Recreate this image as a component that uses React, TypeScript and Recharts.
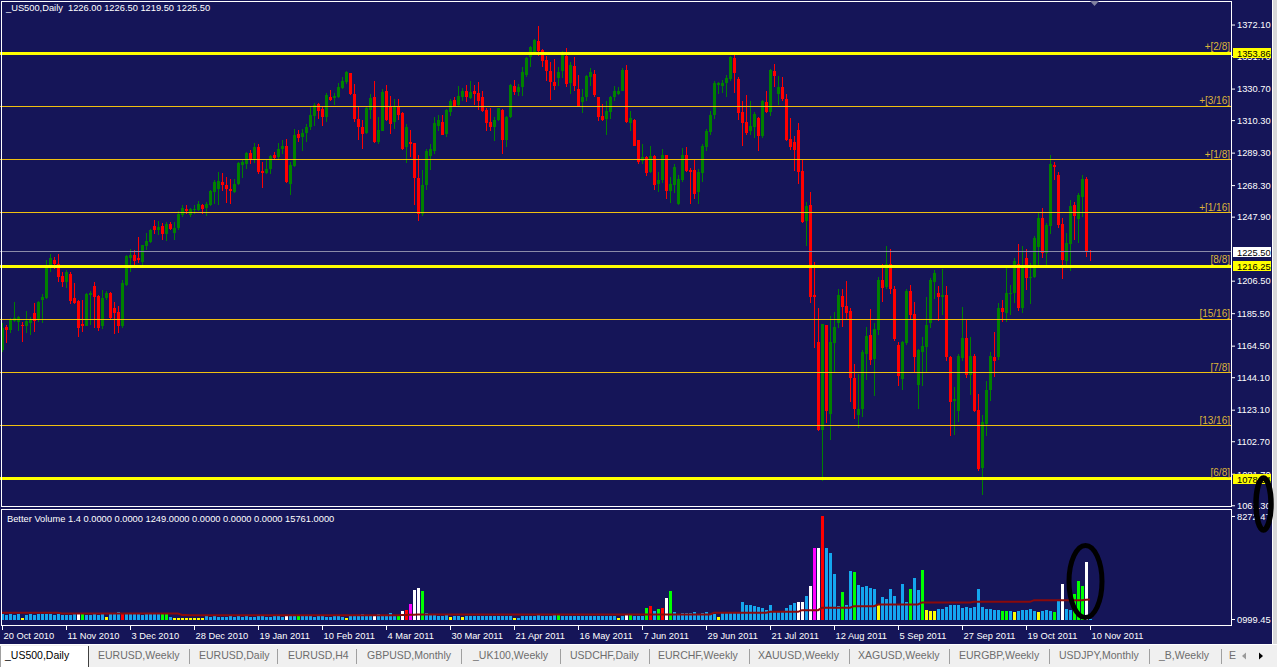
import React from "react";
import { ComposedChart, Bar, Line, XAxis, YAxis, ReferenceLine } from "recharts";

const FONT = "'Liberation Sans', Arial, sans-serif";
const NAVY = "#151558";
const BULL = "#008000";
const BEAR = "#ff0000";
const THICK = "#ffff00";
const THIN = "#f0c010";
const LABEL = "#dcb43a";

const symbol = "_US500";
const period = "Daily";

// one date label every 16 bars, starting at bar 0
const dateLabels = [
  "20 Oct 2010", "11 Nov 2010", "3 Dec 2010", "28 Dec 2010", "19 Jan 2011", "10 Feb 2011",
  "4 Mar 2011", "30 Mar 2011", "21 Apr 2011", "16 May 2011", "7 Jun 2011", "29 Jun 2011",
  "21 Jul 2011", "12 Aug 2011", "5 Sep 2011", "27 Sep 2011", "19 Oct 2011", "10 Nov 2011",
];

const opens = [
  1162.1, 1177.0, 1175.0, 1181.0, 1180.4, 1178.2, 1177.5, 1179.3, 1186.2, 1181.4,
  1194.3, 1195.8, 1216.9, 1220.1, 1217.6, 1209.8, 1206.2, 1211.1, 1195.8, 1193.9,
  1178.9, 1177.6, 1197.6, 1203.4, 1196.9, 1177.2, 1195.4, 1199.1, 1189.0, 1186.8,
  1177.6, 1204.0, 1221.6, 1223.4, 1221.2, 1219.1, 1229.1, 1231.9, 1242.0, 1239.9,
  1242.0, 1237.3, 1243.3, 1237.9, 1241.0, 1249.1, 1253.4, 1249.1, 1252.4, 1252.8,
  1255.6, 1254.1, 1255.6, 1264.2, 1266.0, 1270.6, 1268.4, 1266.3, 1264.2, 1269.1,
  1281.4, 1282.4, 1289.3, 1284.6, 1293.2, 1277.7, 1276.4, 1279.2, 1287.8, 1286.7,
  1291.9, 1294.2, 1269.1, 1280.7, 1301.8, 1299.6, 1302.2, 1306.1, 1313.6, 1321.1,
  1317.9, 1312.9, 1325.8, 1325.0, 1325.4, 1331.4, 1335.1, 1341.3, 1327.5, 1311.4,
  1306.5, 1302.4, 1317.2, 1325.8, 1296.8, 1303.9, 1329.7, 1318.9, 1309.3, 1319.4,
  1315.1, 1293.2, 1296.4, 1295.7, 1273.4, 1249.8, 1268.4, 1287.2, 1290.6, 1307.1,
  1309.3, 1301.8, 1315.7, 1323.7, 1320.7, 1325.4, 1329.3, 1325.0, 1329.3, 1328.0,
  1325.8, 1317.2, 1309.3, 1306.1, 1310.4, 1317.4, 1297.9, 1312.5, 1332.9, 1329.1,
  1331.8, 1340.0, 1351.2, 1354.4, 1361.9, 1356.1, 1349.5, 1342.6, 1335.1, 1337.6,
  1342.2, 1352.2, 1334.4, 1345.8, 1330.8, 1322.2, 1325.4, 1338.3, 1340.4, 1325.4,
  1313.6, 1311.4, 1315.7, 1325.8, 1327.5, 1329.7, 1343.0, 1308.8, 1310.8, 1297.5,
  1284.1, 1286.7, 1277.1, 1287.2, 1269.1, 1271.7, 1287.8, 1264.8, 1268.4, 1256.2,
  1271.7, 1288.4, 1278.6, 1278.6, 1264.2, 1276.4, 1293.2, 1302.8, 1314.2, 1333.2,
  1332.9, 1334.4, 1337.2, 1350.7, 1337.2, 1315.7, 1309.3, 1303.5, 1306.5, 1312.1,
  1300.1, 1322.2, 1315.7, 1342.6, 1327.5, 1332.3, 1324.3, 1298.5, 1296.4, 1304.3,
  1277.7, 1245.5, 1255.6, 1197.6, 1167.5, 1110.1, 1178.2, 1120.9, 1166.8, 1179.3,
  1197.0, 1190.5, 1187.5, 1143.8, 1120.2, 1123.9, 1159.5, 1171.8, 1156.1, 1175.0,
  1207.2, 1202.5, 1217.5, 1201.2, 1165.3, 1143.2, 1166.4, 1200.3, 1185.3, 1139.5,
  1161.0, 1163.8, 1179.3, 1206.1, 1199.1, 1196.5, 1197.6, 1157.4, 1128.8, 1122.4,
  1156.7, 1169.6, 1146.0, 1158.2, 1123.4, 1085.8, 1114.4, 1135.9, 1157.8, 1157.4,
  1189.0, 1186.2, 1198.3, 1198.6, 1217.9, 1189.0, 1221.2, 1208.3, 1208.9, 1228.3,
  1247.6, 1224.8, 1242.0, 1281.4, 1274.9, 1243.3, 1219.7, 1230.5, 1255.6, 1247.0,
  1260.9, 1272.7, 1226.0,
];

const highs = [
  1179.7, 1178.0, 1182.5, 1193.3, 1184.0, 1180.4, 1187.5, 1183.6, 1192.2, 1194.0,
  1198.2, 1220.1, 1224.0, 1222.3, 1224.0, 1212.6, 1214.0, 1212.6, 1205.1, 1194.3,
  1194.3, 1199.1, 1200.4, 1206.2, 1197.6, 1200.8, 1200.4, 1199.7, 1193.3, 1190.5,
  1207.2, 1223.4, 1227.6, 1226.6, 1235.2, 1230.2, 1237.7, 1240.5, 1246.3, 1245.5,
  1243.8, 1244.8, 1244.8, 1244.8, 1251.9, 1255.6, 1255.6, 1254.1, 1255.6, 1258.4,
  1256.6, 1257.7, 1265.2, 1271.7, 1277.1, 1276.4, 1273.8, 1272.7, 1272.7, 1283.5,
  1285.0, 1289.9, 1291.4, 1295.7, 1295.3, 1283.5, 1284.6, 1287.8, 1289.9, 1295.7,
  1297.5, 1298.5, 1283.5, 1305.0, 1304.3, 1305.0, 1307.8, 1319.4, 1321.5, 1321.5,
  1318.9, 1328.0, 1330.1, 1328.0, 1334.6, 1338.7, 1342.6, 1341.3, 1334.0, 1319.4,
  1310.8, 1318.9, 1327.5, 1335.7, 1312.9, 1330.8, 1333.6, 1326.5, 1324.3, 1324.1,
  1315.7, 1307.8, 1304.3, 1295.7, 1287.8, 1278.6, 1291.7, 1295.3, 1312.9, 1314.2,
  1314.2, 1317.9, 1324.3, 1325.8, 1332.9, 1331.4, 1333.6, 1335.7, 1333.6, 1335.1,
  1329.3, 1318.5, 1318.5, 1312.9, 1318.5, 1317.9, 1313.6, 1334.0, 1336.6, 1334.0,
  1345.2, 1351.6, 1358.5, 1363.0, 1371.6, 1356.5, 1352.2, 1348.0, 1350.1, 1345.2,
  1355.5, 1357.2, 1348.0, 1351.6, 1340.0, 1330.8, 1340.0, 1344.3, 1343.0, 1325.8,
  1321.1, 1323.2, 1326.5, 1332.9, 1332.3, 1344.3, 1346.5, 1316.8, 1311.4, 1297.9,
  1294.9, 1287.6, 1293.6, 1287.8, 1277.1, 1292.1, 1288.4, 1273.8, 1282.4, 1274.9,
  1292.7, 1293.2, 1279.9, 1285.0, 1279.2, 1294.9, 1305.0, 1316.8, 1335.7, 1335.4,
  1336.6, 1340.0, 1352.2, 1353.3, 1338.7, 1322.8, 1327.1, 1322.8, 1315.7, 1312.9,
  1323.7, 1329.3, 1343.6, 1346.9, 1339.4, 1338.7, 1327.5, 1312.1, 1300.1, 1308.6,
  1284.6, 1257.7, 1264.2, 1219.1, 1189.0, 1178.9, 1178.2, 1184.0, 1186.8, 1201.4,
  1201.4, 1206.6, 1189.0, 1153.1, 1146.6, 1161.7, 1176.7, 1188.3, 1179.7, 1208.9,
  1217.9, 1229.1, 1227.6, 1203.4, 1167.5, 1168.0, 1201.2, 1204.0, 1193.3, 1162.5,
  1170.7, 1196.5, 1208.3, 1213.7, 1203.4, 1214.1, 1203.4, 1158.2, 1138.0, 1159.5,
  1189.6, 1181.4, 1170.3, 1159.5, 1133.7, 1120.2, 1141.7, 1161.0, 1173.9, 1192.6,
  1194.3, 1216.2, 1203.9, 1221.8, 1230.4, 1229.1, 1227.0, 1218.4, 1235.6, 1251.3,
  1254.1, 1244.2, 1288.4, 1283.5, 1277.1, 1247.6, 1237.7, 1259.2, 1257.7, 1263.5,
  1274.9, 1273.8, 1226.5,
];

const lows = [
  1160.4, 1166.8, 1173.3, 1180.4, 1174.0, 1167.5, 1172.8, 1171.8, 1173.9, 1180.4,
  1179.3, 1194.8, 1212.6, 1214.1, 1206.2, 1202.5, 1201.9, 1191.8, 1191.8, 1170.7,
  1173.5, 1177.2, 1178.2, 1176.1, 1174.6, 1175.4, 1194.3, 1181.4, 1172.2, 1172.8,
  1176.1, 1203.4, 1212.6, 1216.9, 1218.0, 1216.9, 1226.6, 1231.3, 1237.3, 1236.2,
  1233.0, 1232.6, 1239.5, 1233.0, 1239.9, 1248.0, 1250.2, 1248.0, 1250.2, 1251.9,
  1250.2, 1248.5, 1254.9, 1256.6, 1255.6, 1264.8, 1257.1, 1256.6, 1263.5, 1268.4,
  1273.4, 1279.2, 1282.4, 1282.9, 1276.0, 1266.9, 1276.0, 1276.0, 1284.6, 1285.6,
  1288.9, 1270.0, 1262.0, 1280.3, 1296.4, 1290.6, 1296.8, 1304.3, 1307.1, 1311.4,
  1307.1, 1309.3, 1323.2, 1320.7, 1324.8, 1330.8, 1334.0, 1327.1, 1309.3, 1297.5,
  1292.1, 1301.8, 1311.4, 1295.7, 1295.3, 1303.5, 1309.9, 1301.8, 1305.0, 1310.8,
  1291.4, 1282.9, 1286.7, 1255.6, 1245.5, 1248.5, 1265.2, 1278.1, 1288.9, 1303.9,
  1300.7, 1299.6, 1313.6, 1319.4, 1320.0, 1323.2, 1322.2, 1324.3, 1320.7, 1317.2,
  1315.7, 1303.9, 1303.9, 1297.0, 1309.9, 1288.9, 1293.2, 1312.1, 1327.1, 1326.5,
  1326.5, 1338.7, 1345.2, 1353.3, 1352.3, 1344.7, 1336.1, 1323.9, 1330.1, 1332.9,
  1337.9, 1331.8, 1327.5, 1329.3, 1319.6, 1315.1, 1323.2, 1332.9, 1325.8, 1309.9,
  1309.9, 1301.3, 1311.4, 1323.2, 1327.1, 1329.3, 1308.6, 1303.5, 1293.6, 1282.4,
  1282.0, 1274.3, 1276.4, 1265.7, 1264.2, 1270.0, 1259.9, 1257.1, 1263.5, 1255.6,
  1270.6, 1277.1, 1256.2, 1259.9, 1256.2, 1270.6, 1290.6, 1301.3, 1311.4, 1327.5,
  1328.0, 1325.4, 1336.1, 1328.0, 1310.4, 1294.2, 1301.3, 1300.7, 1299.2, 1290.6,
  1299.2, 1315.1, 1313.6, 1331.8, 1320.7, 1323.2, 1297.0, 1291.0, 1277.7, 1269.1,
  1244.2, 1229.1, 1192.6, 1163.2, 1109.5, 1077.2, 1114.8, 1103.7, 1147.1, 1176.1,
  1177.1, 1181.4, 1128.2, 1117.4, 1111.6, 1118.7, 1142.3, 1152.4, 1132.5, 1171.8,
  1193.3, 1201.2, 1198.2, 1168.1, 1138.5, 1135.9, 1165.3, 1181.4, 1147.1, 1123.9,
  1138.5, 1148.1, 1176.1, 1194.8, 1181.0, 1184.7, 1154.6, 1106.7, 1107.3, 1115.3,
  1154.6, 1143.8, 1133.1, 1121.7, 1083.7, 1068.0, 1106.7, 1128.8, 1144.5, 1155.7,
  1180.3, 1180.3, 1184.7, 1192.6, 1187.5, 1185.7, 1200.8, 1191.8, 1208.3, 1216.9,
  1221.8, 1216.9, 1236.9, 1271.7, 1241.2, 1207.6, 1216.2, 1213.2, 1233.4, 1231.3,
  1248.0, 1222.3, 1219.5,
];

const closes = [
  1176.1, 1175.0, 1181.9, 1182.5, 1183.6, 1177.2, 1180.5, 1181.9, 1181.0, 1193.3,
  1196.5, 1216.9, 1221.2, 1217.6, 1209.4, 1206.2, 1212.6, 1193.9, 1192.2, 1176.5,
  1177.2, 1198.2, 1198.6, 1196.5, 1176.5, 1195.8, 1199.1, 1182.5, 1185.7, 1177.6,
  1205.1, 1222.7, 1223.4, 1219.7, 1220.1, 1229.8, 1232.6, 1239.9, 1239.9, 1241.6,
  1237.3, 1243.3, 1240.5, 1240.9, 1250.2, 1254.1, 1251.9, 1253.0, 1253.4, 1256.2,
  1253.4, 1256.6, 1264.8, 1270.6, 1271.3, 1268.4, 1266.3, 1264.8, 1269.1, 1282.9,
  1283.5, 1289.3, 1285.0, 1293.2, 1277.1, 1276.4, 1279.2, 1287.2, 1286.3, 1292.1,
  1294.0, 1270.6, 1281.4, 1301.3, 1299.2, 1302.6, 1306.5, 1314.0, 1320.7, 1316.4,
  1312.9, 1327.1, 1323.9, 1326.0, 1332.3, 1335.7, 1341.9, 1327.5, 1311.4, 1306.1,
  1301.8, 1318.5, 1325.0, 1296.4, 1304.3, 1329.1, 1310.4, 1307.8, 1318.9, 1314.2,
  1291.7, 1306.1, 1294.9, 1273.4, 1250.2, 1268.4, 1290.4, 1291.7, 1308.6, 1310.4,
  1301.3, 1317.2, 1323.2, 1320.0, 1326.5, 1329.3, 1325.4, 1328.6, 1327.5, 1323.2,
  1316.4, 1308.6, 1306.5, 1310.8, 1318.5, 1297.9, 1312.9, 1333.6, 1328.6, 1332.3,
  1341.5, 1350.7, 1357.6, 1362.3, 1355.5, 1348.6, 1342.2, 1335.1, 1332.9, 1341.9,
  1353.7, 1334.0, 1346.5, 1332.9, 1320.0, 1325.8, 1339.4, 1341.5, 1327.1, 1312.5,
  1310.8, 1316.4, 1325.8, 1329.3, 1329.7, 1343.0, 1309.3, 1312.1, 1294.2, 1283.5,
  1286.7, 1276.4, 1287.2, 1268.4, 1272.1, 1287.8, 1264.8, 1269.1, 1280.3, 1272.8,
  1287.8, 1277.7, 1277.0, 1263.1, 1277.1, 1294.2, 1303.5, 1314.2, 1334.4, 1334.4,
  1334.4, 1337.9, 1351.2, 1340.9, 1315.1, 1308.6, 1302.2, 1307.1, 1314.6, 1300.1,
  1322.8, 1315.7, 1343.0, 1339.4, 1331.8, 1324.3, 1297.9, 1293.2, 1291.0, 1277.1,
  1244.8, 1254.9, 1196.5, 1196.0, 1110.1, 1178.9, 1122.4, 1167.5, 1176.7, 1197.6,
  1190.0, 1186.2, 1143.8, 1123.9, 1123.9, 1160.4, 1171.1, 1155.7, 1175.4, 1207.2,
  1201.9, 1217.5, 1201.2, 1169.0, 1144.9, 1167.5, 1200.3, 1184.7, 1157.8, 1161.7,
  1164.7, 1178.2, 1207.2, 1211.5, 1196.5, 1197.6, 1157.4, 1128.2, 1130.3, 1158.2,
  1169.6, 1146.0, 1158.2, 1122.4, 1085.2, 1115.3, 1135.9, 1158.2, 1155.2, 1189.0,
  1186.8, 1199.1, 1198.7, 1219.7, 1189.0, 1216.9, 1208.3, 1209.4, 1234.7, 1247.6,
  1224.8, 1242.7, 1282.0, 1280.3, 1242.7, 1220.5, 1230.9, 1254.9, 1248.5, 1262.0,
  1272.7, 1226.3, 1225.5,
];

const volumes = [
  420, 380, 450, 400, 430, 150, 400, 420, 380, 450,
  430, 480, 460, 400, 420, 380, 360, 400, 410, 520,
  560, 400, 380, 420, 390, 410, 170, 420, 440, 620,
  480, 450, 430, 420, 410, 400, 430, 420, 440, 450,
  560, 560, 200, 150, 120, 110, 100, 90, 110, 100,
  130, 250, 220, 260, 240, 230, 210, 250, 240, 260,
  230, 250, 220, 240, 260, 250, 230, 240, 250, 260,
  240, 300, 260, 250, 290, 260, 250, 270, 240, 260,
  250, 240, 230, 260, 250, 240, 150, 260, 280, 300,
  480, 300, 320, 320, 420, 300, 310, 520, 330, 380,
  670, 750, 1233, 2358, 2546, 2278, 560, 380, 340, 320,
  300, 330, 180, 300, 310, 170, 300, 290, 310, 280,
  300, 320, 290, 300, 310, 280, 300, 290, 160, 120,
  280, 300, 290, 310, 330, 320, 300, 310, 470, 360,
  300, 310, 290, 300, 320, 310, 290, 300, 310, 320,
  300, 290, 310, 300, 150, 300, 330, 360, 310, 300,
  320, 884, 1080, 660, 880, 960, 1690, 2280, 620, 480,
  520, 560, 500, 620, 450, 520, 600, 480, 430, 200,
  560, 620, 600, 640, 640, 1370, 1150, 1150, 1050, 1000,
  960, 760, 1200, 720, 620, 680, 900, 1150, 1340, 1420,
  1420, 1900, 2680, 5760, 5760, 8308, 5760, 5300, 3650, 1070,
  2170, 1150, 3886, 3832, 2760, 2630, 2710, 2550, 2440, 1150,
  1820, 1630, 2440, 1900, 1150, 2890, 1420, 2440, 3350, 2360,
  3970, 800, 670, 670, 830, 830, 1020, 1150, 1150, 1150,
  940, 1020, 940, 1020, 2440, 1020, 880, 830, 750, 750,
  670, 670, 670, 616, 670, 750, 750, 830, 670, 616,
  670, 750, 670, 616, 1550, 2840, 830, 750, 2010, 3080,
  2710, 4580, 60,
];

// b normal, y low, w climax, g churn, r climax down, m climax churn
const volumeKinds =
  "bbbbbybbbb" + "bbbbbbbbbw" + "gbbbbbybbb" + "rbbbbbbbbb" + "ggbyyyyyyy" +
  "ybbbbbbbbb" + "bbbbbbbbbb" + "bwbbgbbbbb" + "bbbbbbybbb" + "bbbwbbbbbg" +
  "wrmwwgbbbb" + "bbybbybbbb" + "bbbbbbbbyb" + "bbbbbbbbbg" + "bbbbbbbbbb" +
  "bbbbybwgbb" + "bgrbgrwgbb" + "bbbbbbbbby" + "bbbbbbbbbb" + "bbbbbbbbbw" +
  "wbwmwrbbbb" + "gbbgbbbbby" + "bbbbbbbgbb" + "gyyybbbbbb" + "bbbbbbbbbb" +
  "ggbybbbbby" + "bbbgbwbbgg" + "gwb";

const volumeAverage = [
  536, 536, 536, 536, 536, 536, 536, 536, 536, 536,
  536, 536, 536, 536, 536, 482, 482, 482, 482, 482,
  482, 482, 482, 482, 482, 482, 482, 482, 482, 482,
  482, 482, 482, 482, 482, 482, 482, 482, 482, 482,
  482, 482, 482, 482, 482, 360, 355, 350, 350, 350,
  350, 350, 350, 350, 350, 350, 350, 350, 350, 350,
  350, 350, 350, 350, 350, 350, 350, 350, 350, 350,
  350, 350, 350, 350, 350, 350, 350, 350, 350, 350,
  350, 350, 350, 350, 350, 350, 350, 350, 350, 350,
  350, 350, 350, 350, 350, 350, 350, 350, 350, 350,
  360, 370, 380, 390, 400, 400, 400, 400, 400, 400,
  400, 400, 400, 400, 400, 400, 400, 400, 400, 400,
  400, 400, 400, 400, 400, 400, 400, 400, 400, 400,
  400, 400, 400, 400, 400, 400, 400, 400, 400, 400,
  400, 400, 400, 400, 400, 400, 400, 400, 400, 400,
  400, 400, 400, 400, 400, 400, 400, 400, 400, 400,
  400, 400, 400, 400, 400, 400, 400, 400, 400, 400,
  400, 400, 400, 400, 400, 400, 400, 400, 536, 536,
  536, 536, 536, 536, 536, 536, 536, 536, 536, 536,
  536, 536, 616, 616, 616, 616, 616, 616, 616, 616,
  750, 750, 750, 750, 750, 940, 940, 940, 940, 940,
  940, 940, 940, 1072, 1072, 1072, 1072, 1072, 1072, 1206,
  1206, 1206, 1206, 1206, 1206, 1206, 1206, 1206, 1206, 1206,
  1367, 1367, 1367, 1367, 1367, 1367, 1367, 1367, 1367, 1367,
  1367, 1367, 1367, 1420, 1420, 1420, 1420, 1420, 1420, 1420,
  1420, 1420, 1420, 1420, 1420, 1420, 1420, 1420, 1554, 1554,
  1554, 1554, 1554, 1554, 1554, 1554, 1554, 1554, 1554, 1554,
  1554, 1580, 1600,
];

const priceTicks = [1372.1, 1351.7, 1330.7, 1310.3, 1289.3, 1268.3, 1247.9, 1206.5, 1185.5, 1164.5, 1144.1, 1123.1, 1102.7, 1081.7, 1061.3];
const murreyLevels = [1353.86, 1319.46, 1285.06, 1250.65, 1216.25, 1181.85, 1147.45, 1113.04, 1078.64];
const murreyNames = ["+[2/8]", "+[3/16]", "+[1/8]", "+[1/16]", "[8/8]", "[15/16]", "[7/8]", "[13/16]", "[6/8]"];
const murreyHeavy = [true, false, false, false, true, false, false, false, true];

const volumeTicks = [0, 8272.4];
const volumeTickLabels = ["0999.45", "8272.47"];

const tabNames = [
  "_US500,Daily", "EURUSD,Weekly", "EURUSD,Daily", "EURUSD,H4", "GBPUSD,Monthly", "_UK100,Weekly",
  "USDCHF,Daily", "EURCHF,Weekly", "XAUUSD,Weekly", "XAGUSD,Weekly", "EURGBP,Weekly", "USDJPY,Monthly",
  "_B,Weekly", "E",
];
const tabLeft = [5, 98, 199, 288, 367, 473, 570, 658, 758, 858, 959, 1059, 1159, 1229];
const tabSeparators = [189, 277, 356, 461, 560, 649, 749, 849, 949, 1049, 1149, 1221];

const VOL_COLORS: Record<string, string> = {
  b: "#14a6ee", y: "#ffff00", w: "#ffffff", g: "#00ff00", r: "#ff0000", m: "#ff00ff",
};

const n = closes.length;
const SLOTS = 308;
const PRICE_DOMAIN = [1060.5, 1387];
const rows = Array.from({ length: SLOTS }, (_, i) =>
  i < n
    ? { idx: i, o: opens[i], h: highs[i], l: lows[i], c: closes[i], range: [lows[i], highs[i]], vol: volumes[i], kind: volumeKinds[i], ma: volumeAverage[i] }
    : { idx: i, range: null, vol: null, ma: null }
);
const dateTicks = dateLabels.map((_, k) => k * 16);

function Candle(props: any) {
  const { x, y, width, height, payload } = props;
  if (!payload || payload.o == null) return null;
  const { o, h, l, c } = payload;
  const k = height / (h - l || 1);
  const yOf = (v: number) => y + (h - v) * k;
  const cx = Math.floor(x + width / 2);
  const wt = Math.round(y);
  const wb = Math.round(y + height);
  const bt = Math.round(yOf(Math.max(o, c)));
  const bb = Math.round(yOf(Math.min(o, c)));
  const color = c >= o ? BULL : BEAR;
  return (
    <g shapeRendering="crispEdges">
      <rect x={cx} y={wt} width={1} height={Math.max(1, wb - wt)} fill={color} />
      <rect x={cx - 1} y={bt} width={3} height={Math.max(1, bb - bt)} fill={color} />
    </g>
  );
}

function VolumeBar(props: any) {
  const { x, y, width, height, payload } = props;
  if (!payload || payload.vol == null) return null;
  const cx = Math.floor(x + width / 2);
  const t = Math.round(y);
  const b = Math.round(y + height);
  return <rect x={cx - 1} y={t} width={3} height={Math.max(1, b - t)} fill={VOL_COLORS[payload.kind] || VOL_COLORS.b} shapeRendering="crispEdges" />;
}

// text above the right end of a level line
function levelTag(tag: string, heavy: boolean) {
  return (p: any) => {
    const vb = p.viewBox;
    if (!vb) return null;
    return (
      <text x={vb.x + vb.width - 2} y={vb.y - (heavy ? 3 : 2)} textAnchor="end" fill={LABEL} fontSize={10} fontFamily={FONT}>{tag}</text>
    );
  };
}

// coloured price box on the right axis
function priceBox(text: string, fill: string) {
  return (p: any) => {
    const vb = p.viewBox;
    if (!vb) return null;
    const right = vb.x + vb.width;
    const y = Math.round(vb.y);
    return (
      <g>
        <rect x={right + 1} y={y - 5} width={38} height={10} fill={fill} shapeRendering="crispEdges" />
        <text x={right + 5} y={y + 3.5} fill="#000" fontSize={9.3} fontFamily={FONT}>{text}</text>
      </g>
    );
  };
}

function DateTick(props: any) {
  const { x, y, payload } = props;
  const label = dateLabels[Math.round(payload.value / 16)];
  if (!label) return null;
  const tx = Math.floor(x) + 0.5;
  return (
    <g>
      <line x1={tx} x2={tx} y1={y + 1} y2={y + 5} stroke="#fff" strokeWidth={1} />
      <text x={tx + 1} y={y + 13.5} fill="#fff" fontSize={9.3} fontFamily={FONT}>{label}</text>
    </g>
  );
}

function VolumeTick(props: any) {
  const { x, y, payload } = props;
  const k = volumeTicks.indexOf(payload.value);
  return (
    <text x={x} y={y + 3.5} fill="#fff" fontSize={9.3} fontFamily={FONT}>{volumeTickLabels[k]}</text>
  );
}

export default function App() {
  const last = n - 1;
  const header = `${symbol},${period}  ${opens[last].toFixed(2)} ${highs[last].toFixed(2)} ${lows[last].toFixed(2)} ${closes[last].toFixed(2)}`;
  const boxes = [
    ...murreyLevels.filter((_, k) => murreyHeavy[k]).map((lv) => ({ y: lv, fill: THICK })),
    { y: closes[last], fill: "#ffffff" },
  ];
  return (
    <div style={{ position: "absolute", left: 0, top: 0, width: 1277, height: 667, background: NAVY, overflow: "hidden", fontFamily: FONT }}>
      <style>{"body{margin:0}"}</style>

      <div style={{ position: "absolute", left: 0, top: 0 }}>
        <ComposedChart width={1277} height={512} data={rows} margin={{ top: 2, right: 0, bottom: 5, left: 0 }}>
          <XAxis dataKey="idx" type="category" hide />
          <YAxis
            orientation="right"
            width={45}
            domain={PRICE_DOMAIN}
            allowDataOverflow
            ticks={priceTicks}
            interval={0}
            axisLine={false}
            tickLine={{ stroke: "#fff" }}
            tickSize={3}
            tickMargin={2}
            tick={{ fill: "#fff", fontSize: 9.3, fontFamily: FONT }}
            tickFormatter={(v: number) => v.toFixed(2)}
          />
          <Bar dataKey="range" barSize={3} shape={(p: any) => <Candle {...p} />} isAnimationActive={false} />
          {murreyLevels.map((lv, k) => (
            <ReferenceLine
              key={lv}
              y={lv}
              stroke={murreyHeavy[k] ? THICK : THIN}
              strokeWidth={murreyHeavy[k] ? 3 : 1}
              shapeRendering="crispEdges"
              label={levelTag(murreyNames[k], murreyHeavy[k])}
            />
          ))}
          <ReferenceLine y={closes[last]} stroke="#8c8ca8" strokeWidth={1} shapeRendering="crispEdges" />
        </ComposedChart>
      </div>

      {/* price boxes drawn above the axis labels */}
      <div style={{ position: "absolute", left: 0, top: 0 }}>
        <ComposedChart width={1277} height={512} data={rows} margin={{ top: 2, right: 0, bottom: 5, left: 0 }}>
          <XAxis dataKey="idx" type="category" hide />
          <YAxis orientation="right" width={45} domain={PRICE_DOMAIN} allowDataOverflow tick={false} axisLine={false} tickLine={false} />
          {boxes.map((b) => (
            <ReferenceLine key={b.y} y={b.y} stroke="none" label={priceBox(b.y.toFixed(2), b.fill)} />
          ))}
        </ComposedChart>
      </div>

      <div style={{ position: "absolute", left: 0, top: 509 }}>
        <ComposedChart width={1277} height={135} data={rows} margin={{ top: 1, right: 0, bottom: 0, left: 0 }}>
          <XAxis
            dataKey="idx"
            type="category"
            height={19}
            axisLine={false}
            tickLine={false}
            tickSize={0}
            tickMargin={0}
            ticks={dateTicks}
            interval={0}
            tick={(p: any) => <DateTick {...p} />}
          />
          <YAxis
            orientation="right"
            width={45}
            domain={[-441, 8790]}
            allowDataOverflow
            ticks={volumeTicks}
            interval={0}
            axisLine={false}
            tickLine={{ stroke: "#fff" }}
            tickSize={3}
            tickMargin={2}
            tick={(p: any) => <VolumeTick {...p} />}
          />
          <Bar dataKey="vol" barSize={3} shape={(p: any) => <VolumeBar {...p} />} isAnimationActive={false} />
          <Line dataKey="ma" type="linear" stroke="#8b0a0a" strokeWidth={2} dot={false} activeDot={false} isAnimationActive={false} />
        </ComposedChart>
      </div>

      <div style={{ position: "absolute", left: 6, top: 3, color: "#fff", fontSize: 9.3, whiteSpace: "pre", lineHeight: "11px" }}>{header}</div>
      <div style={{ position: "absolute", left: 7, top: 514, color: "#fff", fontSize: 9.3, whiteSpace: "pre", lineHeight: "11px" }}>
        Better Volume 1.4 0.0000 0.0000 1249.0000 0.0000 0.0000 0.0000 15761.0000
      </div>

      <svg width={1277} height={667} style={{ position: "absolute", left: 0, top: 0, pointerEvents: "none" }}>
        <g shapeRendering="crispEdges" fill="none" stroke="#ffffff" strokeWidth={1}>
          <rect x={1.5} y={1.5} width={1230} height={505} />
          <rect x={1.5} y={509.5} width={1230} height={116} />
        </g>
        <polygon points="1090,1 1099,1 1094.5,6" fill="#8080a0" />
        <rect x={1272} y={0} width={5} height={644} fill="#d8d8d8" />
        <line x1={1272.5} x2={1272.5} y1={0} y2={644} stroke="#ffffff" />
        <ellipse cx={1085.5} cy={581.5} rx={16.5} ry={36} fill="none" stroke="#000" strokeWidth={5} />
        <ellipse cx={1263.5} cy={504} rx={7.5} ry={26} fill="none" stroke="#000" strokeWidth={5.5} />
      </svg>

      <div style={{ position: "absolute", left: 0, top: 644, width: 1277, height: 23, background: "#f0f0f0", borderTop: "1px solid #ffffff", boxSizing: "border-box" }}>
        <div style={{ position: "absolute", left: 0, top: 1, width: 89, height: 22, background: "#ffffff", borderLeft: "1px solid #a0a0a0", borderRight: "1px solid #404040", boxSizing: "border-box" }} />
        {tabSeparators.map((sx) => (
          <div key={sx} style={{ position: "absolute", left: sx, top: 4, width: 1, height: 15, background: "#a0a0a0" }} />
        ))}
        {tabNames.map((t, k) => (
          <div key={t} style={{ position: "absolute", left: tabLeft[k], top: 4, fontSize: 10.5, lineHeight: "12px", whiteSpace: "pre", color: k === 0 ? "#000" : "#6d6d6d" }}>{t}</div>
        ))}
        <svg width={40} height={22} style={{ position: "absolute", left: 1237, top: 0 }}>
          <polygon points="9,7.5 5,11 9,14.5" fill="#9a9a9a" />
          <polygon points="22,7.5 26,11 22,14.5" fill="#000" />
        </svg>
      </div>
    </div>
  );
}
